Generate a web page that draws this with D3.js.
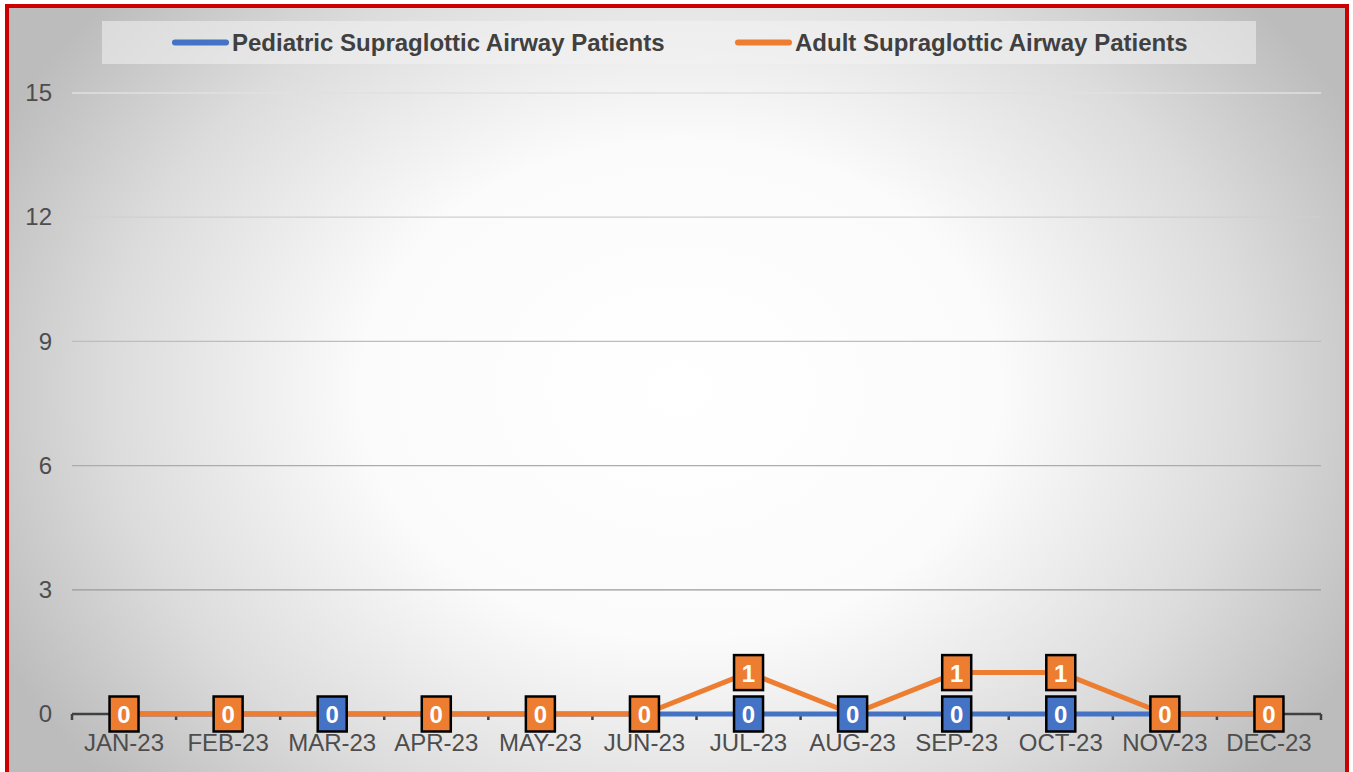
<!DOCTYPE html>
<html>
<head>
<meta charset="utf-8">
<script src="https://cdn.jsdelivr.net/npm/d3@7"></script>
<style>
  html, body { margin: 0; padding: 0; background: #ffffff; }
  svg { display: block; font-family: "Liberation Sans", Arial, sans-serif; }
</style>
</head>
<body>
<svg id="chart" width="1353" height="772"></svg>
<script>
// Monthly supraglottic airway patient counts, 2023
const months = ["JAN-23", "FEB-23", "MAR-23", "APR-23", "MAY-23", "JUN-23",
                "JUL-23", "AUG-23", "SEP-23", "OCT-23", "NOV-23", "DEC-23"];
const pediatricValues = [0, 0, 0, 0, 0, 0, 0, 0, 0, 0, 0, 0];
const adultValues     = [0, 0, 0, 0, 0, 0, 1, 0, 1, 1, 0, 0];
// Which data labels are drawn (overlapping zero labels keep only one)
const pediatricLabelOn = [false, false, true, false, false, false, true, true, true, true, false, false];
const adultLabelOn     = [true, true, false, true, true, true, true, false, true, true, true, true];
const yTicks = [0, 3, 6, 9, 12, 15];
const seriesNames = ["Pediatric Supraglottic Airway Patients", "Adult Supraglottic Airway Patients"];

(function draw() {
  const svg = d3.select("#chart");
  const defs = svg.append("defs");

  // Chart area background: white glow in the middle fading to grey edges
  const bg = defs.append("radialGradient").attr("id", "bgGrad")
    .attr("gradientUnits", "userSpaceOnUse")
    .attr("cx", 680).attr("cy", 390).attr("r", 760)
    .attr("gradientTransform", "translate(680,390) scale(1,0.78) translate(-680,-390)");
  bg.append("stop").attr("offset", "0").attr("stop-color", "#ffffff");
  bg.append("stop").attr("offset", "0.42").attr("stop-color", "#fbfbfb");
  bg.append("stop").attr("offset", "0.75").attr("stop-color", "#dcdcdc");
  bg.append("stop").attr("offset", "1").attr("stop-color", "#bcbcbc");

  svg.append("rect").attr("x", 7).attr("y", 6).attr("width", 1340).attr("height", 770)
    .attr("fill", "url(#bgGrad)");

  // Plot geometry
  const plotL = 72, plotR = 1321, plotT = 93, plotB = 714;
  const x = d3.scaleBand().domain(months).range([plotL, plotR]).paddingInner(0).paddingOuter(0);
  const y = d3.scaleLinear().domain([0, 15]).range([plotB, plotT]);
  const cx = m => x(m) + x.bandwidth() / 2;

  // Gridlines, lighter toward the top
  const gridColor = d3.scaleLinear().domain([15, 3]).range(["#e0e0e0", "#9a9a9a"]);
  svg.append("g").selectAll("line")
    .data(yTicks.filter(t => t > 0))
    .join("line")
    .attr("x1", plotL).attr("x2", plotR)
    .attr("y1", d => y(d)).attr("y2", d => y(d))
    .attr("stroke", d => gridColor(d)).attr("stroke-width", 1.3);

  // Y axis labels
  const yAxis = d3.axisLeft(y).tickValues(yTicks).tickSize(0).tickPadding(0).tickFormat(d3.format("d"));
  const gy = svg.append("g").attr("transform", "translate(52,0)").call(yAxis);
  gy.select(".domain").remove();
  gy.selectAll("text").attr("font-size", 24).attr("fill", "#4d4d4d")
    .attr("font-family", "'Liberation Sans', Arial, sans-serif");

  // X axis line with boundary ticks
  const xTickPos = d3.range(months.length + 1).map(i => plotL + i * x.bandwidth());
  const gx = svg.append("g");
  gx.append("line").attr("x1", plotL).attr("x2", plotR).attr("y1", plotB).attr("y2", plotB)
    .attr("stroke", "#404040").attr("stroke-width", 2.5);
  gx.selectAll("line.tick").data(xTickPos).join("line").attr("class", "tick")
    .attr("x1", d => d).attr("x2", d => d).attr("y1", plotB).attr("y2", plotB + 6)
    .attr("stroke", "#404040").attr("stroke-width", 2.5);
  gx.selectAll("text").data(months).join("text")
    .attr("x", d => cx(d)).attr("y", 751)
    .attr("text-anchor", "middle").attr("font-size", 24).attr("fill", "#4d4d4d")
    .text(d => d);

  // Series lines
  const line = d3.line().x((d, i) => cx(months[i])).y(d => y(d));
  const series = [
    { name: seriesNames[0], values: pediatricValues, labels: pediatricLabelOn, color: "#4472C4" },
    { name: seriesNames[1], values: adultValues, labels: adultLabelOn, color: "#ED7D31" }
  ];
  series.forEach(s => {
    svg.append("path").datum(s.values).attr("d", line)
      .attr("fill", "none").attr("stroke", s.color).attr("stroke-width", 5)
      .attr("stroke-linejoin", "round");
  });

  // Data labels: filled boxes with black outline
  series.forEach(s => {
    const g = svg.append("g");
    const pts = s.values.map((v, i) => ({ v, i })).filter(d => s.labels[d.i]);
    const lab = g.selectAll("g").data(pts).join("g")
      .attr("transform", d => `translate(${cx(months[d.i])},${y(d.v)})`);
    lab.append("rect").attr("x", -14.5).attr("y", -17.5).attr("width", 29).attr("height", 35)
      .attr("fill", s.color).attr("stroke", "#000000").attr("stroke-width", 2.5);
    lab.append("text").attr("text-anchor", "middle").attr("y", 9)
      .attr("font-size", 24).attr("font-weight", "bold").attr("fill", "#ffffff")
      .text(d => d.v);
  });

  // Legend
  const lg = svg.append("g");
  lg.append("rect").attr("x", 102).attr("y", 21).attr("width", 1154).attr("height", 43)
    .attr("fill", "#f2f2f2").attr("fill-opacity", 0.55);
  const legendX = [172, 735];
  series.forEach((s, i) => {
    lg.append("line").attr("x1", legendX[i] + 3).attr("x2", legendX[i] + 54)
      .attr("y1", 42.5).attr("y2", 42.5)
      .attr("stroke", s.color).attr("stroke-width", 6).attr("stroke-linecap", "round");
    lg.append("text").attr("x", legendX[i] + 60).attr("y", 51)
      .attr("font-size", 24).attr("font-weight", "bold").attr("fill", "#404040")
      .text(s.name);
  });

  // Red outer frame
  svg.append("rect").attr("x", 7).attr("y", 6).attr("width", 1340).attr("height", 769)
    .attr("fill", "none").attr("stroke", "#cc0000").attr("stroke-width", 4);
})();
</script>
</body>
</html>
